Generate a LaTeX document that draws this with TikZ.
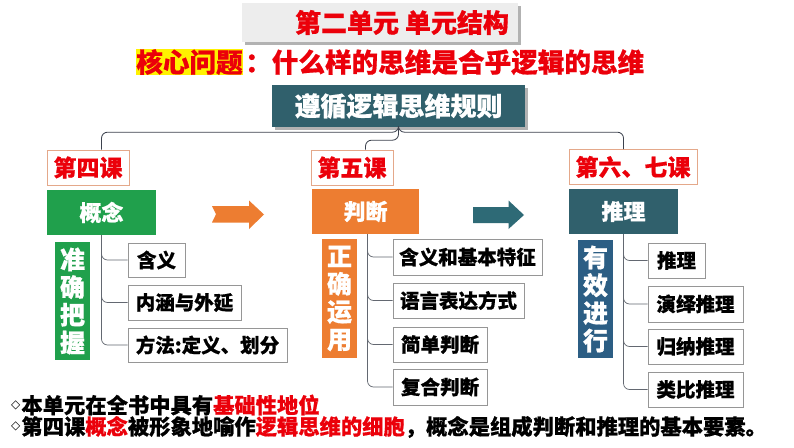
\documentclass[tikz,border=0pt]{standalone}
\usepackage{fontspec}
\setmainfont{Noto Sans CJK SC}[BoldFeatures={FakeBold=0.6}]
\newfontfamily\symfont{DejaVu Sans}
\definecolor{tred}{RGB}{235,0,10}
\definecolor{tgreen}{RGB}{32,160,76}
\definecolor{torange}{RGB}{237,125,49}
\definecolor{tteal}{RGB}{48,96,108}
\definecolor{tarrow}{RGB}{46,106,118}
\definecolor{tblue}{RGB}{44,94,132}
\definecolor{hborder}{RGB}{228,168,138}
\definecolor{sborder}{RGB}{150,150,150}
\definecolor{lgray}{RGB}{237,237,237}
\definecolor{conncol}{RGB}{60,66,78}
\tikzset{
  fs/.style={font=\fontsize{#1}{#1}\selectfont\bfseries},
  headbox/.style={draw=hborder, fill=white, line width=0.8pt, text=tred, fs=23, inner sep=0pt},
  mainbox/.style={fill=#1, text=white, fs=22, inner sep=0pt},
  vertbox/.style={fill=#1, text=white, font=\fontsize{25}{27.7}\selectfont\bfseries, align=center, inner sep=0pt},
  subbox/.style={draw=sborder, fill=white, line width=0.8pt, text=black, fs=19.5, inner sep=0pt},
  conn/.style={draw=conncol, line width=0.8pt, rounded corners=6pt},
  tree/.style={draw=conncol!80, line width=0.7pt, rounded corners=6pt},
}
\newcommand{\dmark}{{\symfont\mdseries\fontsize{12}{12}\selectfont\raisebox{5pt}{◇}}\hspace{1pt}}
\begin{document}
\begin{tikzpicture}[x=1pt,y=-1pt]
\useasboundingbox (0,0) rectangle (794,447);
\fill[white] (0,0) rectangle (794,447);

% title
\fill[gray!60] (245,6) rectangle (521,45);
\node[fill=lgray, minimum width=276pt, minimum height=39pt, inner sep=0pt] (titlebox) at (380,22.5) {};
\node[text=tred, fs=26] (title) at (402,22.5) {第二单元 单元结构};

% core question
\node[text=tred, fs=26.6, inner sep=0pt] (question) at (390,62)
  {{\setlength{\fboxsep}{0.5pt}\colorbox{yellow}{核心问题}}\hspace{2pt}：什么样的思维是合乎逻辑的思维};

% top box
\fill[gray!60] (275,88) rectangle (528,130);
\node[fill=tteal, text=white, fs=26, minimum width=253pt, minimum height=42pt, inner sep=0pt] (top) at (398.5,106) {遵循逻辑思维规则};

% headers
\node[headbox, minimum width=82pt, minimum height=35pt] (h1) at (88,167.5) {第四课};
\node[headbox, minimum width=82pt, minimum height=35pt] (h2) at (352,167.5) {第五课};
\node[headbox, minimum width=128pt, minimum height=35pt] (h3) at (633,167) {第六、七课};

% main boxes
\node[mainbox=tgreen, minimum width=109pt, minimum height=45pt] (c1) at (101.5,212.5) {概念};
\node[mainbox=torange, minimum width=107pt, minimum height=45pt] (c2) at (365.5,211.5) {判断};
\node[mainbox=tteal, minimum width=109pt, minimum height=45pt] (c3) at (623.5,211.5) {推理};

% connectors from top
\draw[conn] (top.south) -- ++(0,5) -| (c1.north |- h1.north);
\draw[conn] (top.south) -- ++(0,5) -| (c3.north |- h3.north);
\draw[conn] (top.south) -- ++(0,13) -| (c2.north |- h2.north);

% arrows
\fill[torange] (212,206) -- (249,206) -- (249,200.5) -- (264,214.5) -- (249,229) -- (249,222.5) -- (212,222.5) -- (216,214.2) -- cycle;
\fill[tarrow] (473,207) -- (508.5,207) -- (508.5,200.5) -- (524,215) -- (508.5,229) -- (508.5,223) -- (473,223) -- cycle;

% vertical labels
\node[vertbox=tgreen, minimum width=35pt, minimum height=118pt] (v1) at (72.5,301) {准\\确\\把\\握};
\node[vertbox=torange, minimum width=35pt, minimum height=119pt] (v2) at (339.5,298.5) {正\\确\\运\\用};
\node[vertbox=tblue, minimum width=35pt, minimum height=118pt] (v3) at (595.5,299) {有\\效\\进\\行};

% sub boxes column 1
\node[subbox, minimum width=57pt, minimum height=34pt] (s11) at (156.5,260) {含义};
\node[subbox, minimum width=113pt, minimum height=35pt] (s12) at (184.5,302.5) {内涵与外延};
\node[subbox, minimum width=159pt, minimum height=34pt] (s13) at (207.5,345) {方法:定义、划分};
% column 2
\node[subbox, minimum width=149pt, minimum height=36pt] (s21) at (467.5,257) {含义和基本特征};
\node[subbox, minimum width=131pt, minimum height=35pt] (s22) at (458.5,300.5) {语言表达方式};
\node[subbox, minimum width=94pt, minimum height=35pt] (s23) at (440,344.5) {简单判断};
\node[subbox, minimum width=94pt, minimum height=36pt] (s24) at (440,387) {复合判断};
% column 3
\node[subbox, minimum width=57pt, minimum height=35pt] (s31) at (676.5,260.5) {推理};
\node[subbox, minimum width=95pt, minimum height=36pt] (s32) at (695.5,304) {演绎推理};
\node[subbox, minimum width=95pt, minimum height=35pt] (s33) at (695.5,346.5) {归纳推理};
\node[subbox, minimum width=95pt, minimum height=35pt] (s34) at (695.5,389.5) {类比推理};

% tree lines
\foreach \s in {s11,s12,s13} \draw[tree] (c1.south) |- (\s.west);
\foreach \s in {s21,s22,s23,s24} \draw[tree] ([xshift=2pt]c2.south) |- (\s.west);
\foreach \s in {s31,s32,s33,s34} \draw[tree] (c3.south) |- (\s.west);

% bottom notes
\node[anchor=west, fs=21.3, inner sep=0pt] (note1) at (11,405)
  {\dmark 本单元在全书中具有\textcolor{tred}{基础性地位}};
\node[anchor=west, fs=21.3, inner sep=0pt] (note2) at (11,427)
  {\dmark 第四课\textcolor{tred}{概念}被形象地喻作\textcolor{tred}{逻辑思维的细胞}，概念是组成判断和推理的基本要素。};
\end{tikzpicture}
\end{document}
